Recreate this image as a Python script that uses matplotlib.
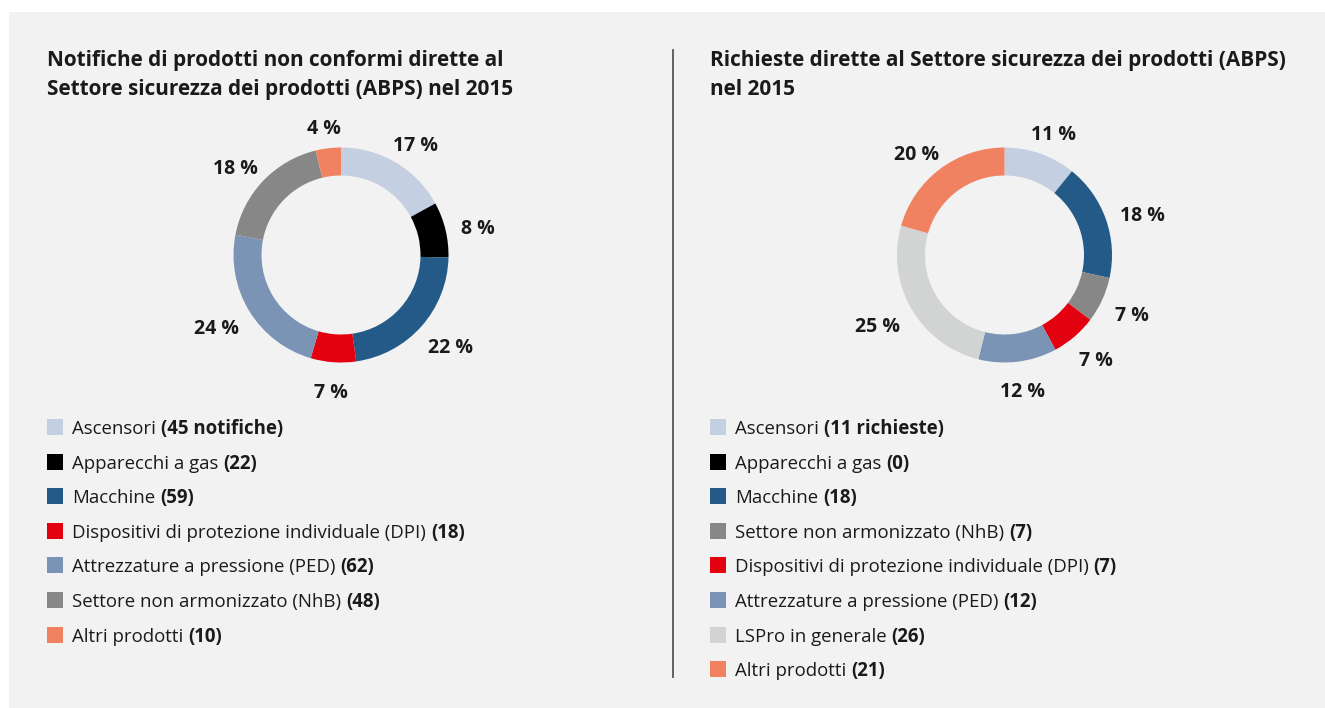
import matplotlib
matplotlib.use("Agg")
import matplotlib.pyplot as plt
from matplotlib.patches import Rectangle
import numpy as np

# ---------------- data ----------------
left_title = ["Notifiche di prodotti non conformi dirette al",
              "Settore sicurezza dei prodotti (ABPS) nel 2015"]
left_categories = ["Ascensori", "Apparecchi a gas", "Macchine",
                   "Dispositivi di protezione individuale (DPI)",
                   "Attrezzature a pressione (PED)",
                   "Settore non armonizzato (NhB)", "Altri prodotti"]
left_values = [45, 22, 59, 18, 62, 48, 10]
left_pct_labels = ["17 %", "8 %", "22 %", "7 %", "24 %", "18 %", "4 %"]
left_counts = ["(45 notifiche)", "(22)", "(59)", "(18)", "(62)", "(48)", "(10)"]
left_colors = ["#c5cfe2", "#000000", "#235a87", "#e3000f", "#7b94b5", "#878787", "#f08262"]

right_title = ["Richieste dirette al Settore sicurezza dei prodotti (ABPS)",
               "nel 2015"]
right_categories = ["Ascensori", "Apparecchi a gas", "Macchine",
                    "Settore non armonizzato (NhB)",
                    "Dispositivi di protezione individuale (DPI)",
                    "Attrezzature a pressione (PED)",
                    "LSPro in generale", "Altri prodotti"]
right_values = [11, 0, 18, 7, 7, 12, 26, 21]
right_pct_labels = ["11 %", "", "18 %", "7 %", "7 %", "12 %", "25 %", "20 %"]
right_counts = ["(11 richieste)", "(0)", "(18)", "(7)", "(7)", "(12)", "(26)", "(21)"]
right_colors = ["#c5cfe2", "#000000", "#235a87", "#878787", "#e3000f", "#7b94b5", "#d2d3d3", "#f08262"]

# ---------------- figure ----------------
W, H = 1325, 708
DPI = 100
plt.rcParams['font.family'] = ['Open Sans', 'DejaVu Sans']
fig = plt.figure(figsize=(W / DPI, H / DPI), dpi=DPI, facecolor="white")

BG = "#f2f2f2"
TXT = "#1a1a1a"

def fx(px):
    return px / W

def fy(py):  # py measured from top
    return 1 - py / H

fig.patches.append(Rectangle((fx(9), 0), 1 - fx(9), fy(12), transform=fig.transFigure,
                             facecolor=BG, edgecolor="none", zorder=-5))

# divider
fig.add_artist(plt.Line2D([fx(672.5), fx(672.5)], [fy(50), fy(677)],
                          transform=fig.transFigure, color="#555555", lw=1.3))

TITLE_FS = 14.95
PCT_FS = 14.0
LEG_FS = 13.4

def title(x, lines):
    for i, line in enumerate(lines):
        fig.text(fx(x), fy(66 + 29 * i), line, fontsize=TITLE_FS, fontweight="bold",
                 color=TXT, ha="left", va="baseline")

title(47, left_title)
title(710, right_title)

R_PX = 107.5
HALF = 150
R0 = 1.15          # anchor radius for percentage labels (outside end)
CAP = 0.714 * PCT_FS * DPI / 72.0  # cap height in px
DROP = 3.5         # px

renderer = fig.canvas.get_renderer()

def donut(cx, cy, values, colors, pct_labels):
    ax = fig.add_axes([fx(cx - HALF), fy(cy + HALF), (2 * HALF) / W, (2 * HALF) / H])
    ax.set_aspect("equal")
    ax.axis("off")
    ax.patch.set_alpha(0)
    ax.set_zorder(1)
    wedges, _ = ax.pie(values, colors=colors, startangle=90, counterclock=False,
                       radius=1.0, wedgeprops=dict(width=28 / R_PX, edgecolor="none"))
    ax.set_xlim(-HALF / R_PX, HALF / R_PX)
    ax.set_ylim(-HALF / R_PX, HALF / R_PX)
    for w, lab, v in zip(wedges, pct_labels, values):
        if v == 0 or not lab:
            continue
        ang = np.deg2rad((w.theta1 + w.theta2) / 2)
        ux, uy = np.cos(ang), np.sin(ang)
        t = ax.text(0, 0, lab, fontsize=PCT_FS, fontweight="bold",
                    color=TXT, ha="center", va="baseline")
        bb = t.get_window_extent(renderer)
        wpx = bb.width
        cxp = R0 * ux + ux * (wpx / 2) / R_PX
        cyp = R0 * uy + uy * (CAP / 2 + 2) / R_PX
        t.set_position((cxp, cyp - (CAP / 2 + DROP) / R_PX))
    return ax

donut(341, 255, left_values, left_colors, left_pct_labels)
donut(1004.5, 255, right_values, right_colors, right_pct_labels)

# legends
fig.canvas.draw()
renderer = fig.canvas.get_renderer()

def legend(x, cats, counts, colors):
    for i, (c, n, col) in enumerate(zip(cats, counts, colors)):
        yc = 427 + 34.6 * i
        fig.patches.append(Rectangle((fx(x), fy(yc + 8)), 16 / W, 16 / H,
                                     transform=fig.transFigure, facecolor=col,
                                     edgecolor="none", zorder=2))
        t = fig.text(fx(x + 25), fy(yc + 7), c, fontsize=LEG_FS, color=TXT,
                     ha="left", va="baseline")
        bb = t.get_window_extent(renderer)
        fig.text(bb.x1 / W + fx(5), fy(yc + 7), n, fontsize=LEG_FS, fontweight="bold",
                 color=TXT, ha="left", va="baseline")

legend(47, left_categories, left_counts, left_colors)
legend(710, right_categories, right_counts, right_colors)

fig.savefig("out.png", dpi=DPI, facecolor="white")
